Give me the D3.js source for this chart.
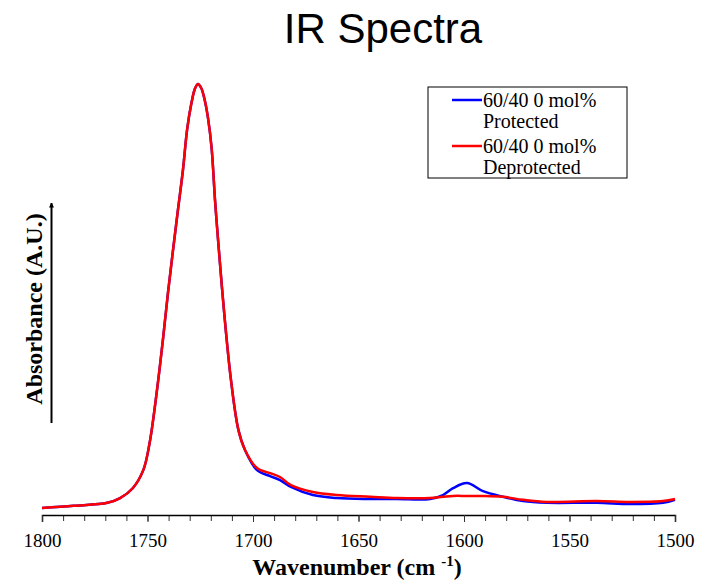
<!DOCTYPE html>
<html>
<head>
<meta charset="utf-8">
<script src="https://cdn.jsdelivr.net/npm/d3@7"></script>
<style>
  body { margin: 0; background: #fff; }
  text { fill: #000; }
</style>
</head>
<body>
<script>
// wavenumbers (cm-1), high to low
const wavenumbers = [1800, 1785, 1769, 1763, 1757, 1752, 1749, 1745.5, 1742.7, 1740.3, 1737.9, 1735.5, 1733.2, 1731.2, 1729.2, 1727.6, 1726.1,
  1724.5, 1723, 1721.3, 1719.6, 1718, 1716.6, 1713.7, 1710.4, 1706.9, 1703.8, 1698.1, 1691.9, 1687.2, 1682, 1671.6, 1660.2,
  1644.5, 1631.8, 1616.1, 1610, 1605.2, 1598.6, 1591, 1581.5, 1572, 1560.7, 1537, 1521.3, 1505.7, 1500];

// absorbance, normalised so the carbonyl peak is 1
const protectedAbs = [0.014, 0.019, 0.026, 0.037, 0.060, 0.102, 0.165, 0.288, 0.405, 0.514, 0.614, 0.710, 0.800, 0.895, 0.955, 0.988, 1.000,
  0.990, 0.965, 0.920, 0.850, 0.730, 0.640, 0.470, 0.310, 0.195, 0.149, 0.102, 0.088, 0.079, 0.063, 0.044, 0.037,
  0.035, 0.035, 0.035, 0.044, 0.060, 0.072, 0.053, 0.040, 0.030, 0.026, 0.026, 0.023, 0.026, 0.033];
const deprotectedAbs = [0.014, 0.019, 0.026, 0.037, 0.060, 0.102, 0.165, 0.288, 0.405, 0.514, 0.614, 0.710, 0.800, 0.895, 0.955, 0.988, 1.000,
  0.990, 0.965, 0.920, 0.850, 0.730, 0.640, 0.470, 0.310, 0.195, 0.149, 0.107, 0.095, 0.086, 0.067, 0.051, 0.044,
  0.040, 0.037, 0.037, 0.040, 0.042, 0.042, 0.042, 0.040, 0.033, 0.028, 0.030, 0.028, 0.030, 0.035];

const seriesNames = ["60/40 0 mol% Protected", "60/40 0 mol% Deprotected"];
const seriesColors = ["#0000ff", "#ff0000"];
const xTicks = [1800, 1750, 1700, 1650, 1600, 1550, 1500];

const W = 705, H = 580;
const serif = "Liberation Serif, Times New Roman, serif";
const svg = d3.select("body").append("svg").attr("width", W).attr("height", H);

const x = d3.scaleLinear().domain([1800, 1500]).range([42, 675]);
const y = d3.scaleLinear().domain([0, 1]).range([514, 84]);

// title
svg.append("text").attr("x", 383).attr("y", 43).attr("text-anchor", "middle")
  .style("font-family", "Liberation Sans, Arial, sans-serif").style("font-size", "42px")
  .text("IR Spectra");

// x axis, minor ticks every 10
const axisG = svg.append("g").attr("transform", "translate(0,515)");
axisG.append("g")
  .call(d3.axisBottom(x).tickValues(d3.range(1800, 1499, -10)).tickSize(6).tickFormat(""))
  .call(g => g.select(".domain").remove());
axisG.append("g")
  .call(d3.axisBottom(x).tickValues(xTicks).tickSize(7).tickPadding(12).tickFormat(d3.format("d")))
  .call(g => g.selectAll("text").style("font-family", serif).style("font-size", "19px"));
axisG.selectAll("path.domain").attr("stroke", "#000").attr("stroke-width", 1.5);
axisG.selectAll(".tick line").attr("stroke", "#333").attr("stroke-width", 1);

// x label
const xl = svg.append("text").attr("x", 357).attr("y", 575).attr("text-anchor", "middle")
  .style("font-family", serif).style("font-size", "24px").style("font-weight", "bold");
xl.append("tspan").text("Wavenumber (cm ");
xl.append("tspan").attr("dy", -9).style("font-size", "15px").text("-1");
xl.append("tspan").attr("dy", 9).text(")");

// y arrow and label
svg.append("defs").append("marker").attr("id", "arr")
  .attr("viewBox", "0 0 10 10").attr("refX", 9).attr("refY", 5)
  .attr("markerWidth", 5).attr("markerHeight", 7).attr("markerUnits", "userSpaceOnUse")
  .attr("orient", "auto")
  .append("path").attr("d", "M0,0L10,5L0,10Z").attr("fill", "#000");
svg.append("line").attr("x1", 51.5).attr("x2", 51.5).attr("y1", 423).attr("y2", 203)
  .attr("stroke", "#000").attr("stroke-width", 2).attr("marker-end", "url(#arr)");
svg.append("text").attr("transform", "translate(42,309) rotate(-90)").attr("text-anchor", "middle")
  .style("font-family", serif).style("font-size", "24px").style("font-weight", "bold")
  .text("Absorbance (A.U.)");

// spectra
const line = d3.line().x(d => x(d[0])).y(d => y(d[1])).curve(d3.curveCatmullRom.alpha(0.5));
[protectedAbs, deprotectedAbs].forEach((vals, i) => {
  svg.append("path")
    .datum(wavenumbers.map((w, j) => [w, vals[j]]))
    .attr("fill", "none").attr("stroke", seriesColors[i]).attr("stroke-width", 2.5)
    .attr("d", line);
});

// legend
const leg = svg.append("g").attr("transform", "translate(428,87)");
leg.append("rect").attr("width", 199).attr("height", 91).attr("fill", "#fff").attr("stroke", "#000").attr("stroke-width", 1);
seriesNames.forEach((name, i) => {
  const yy = 13 + i * 46;
  leg.append("line").attr("x1", 24).attr("x2", 54).attr("y1", yy).attr("y2", yy)
    .attr("stroke", seriesColors[i]).attr("stroke-width", 2.5);
  const words = name.split(" ");
  const t = leg.append("text").attr("x", 55).attr("y", yy + 7)
    .style("font-family", serif).style("font-size", "20px");
  t.append("tspan").attr("x", 55).text(words.slice(0, 3).join(" "));
  t.append("tspan").attr("x", 55).attr("dy", 21).text(words.slice(3).join(" "));
});
</script>
</body>
</html>
